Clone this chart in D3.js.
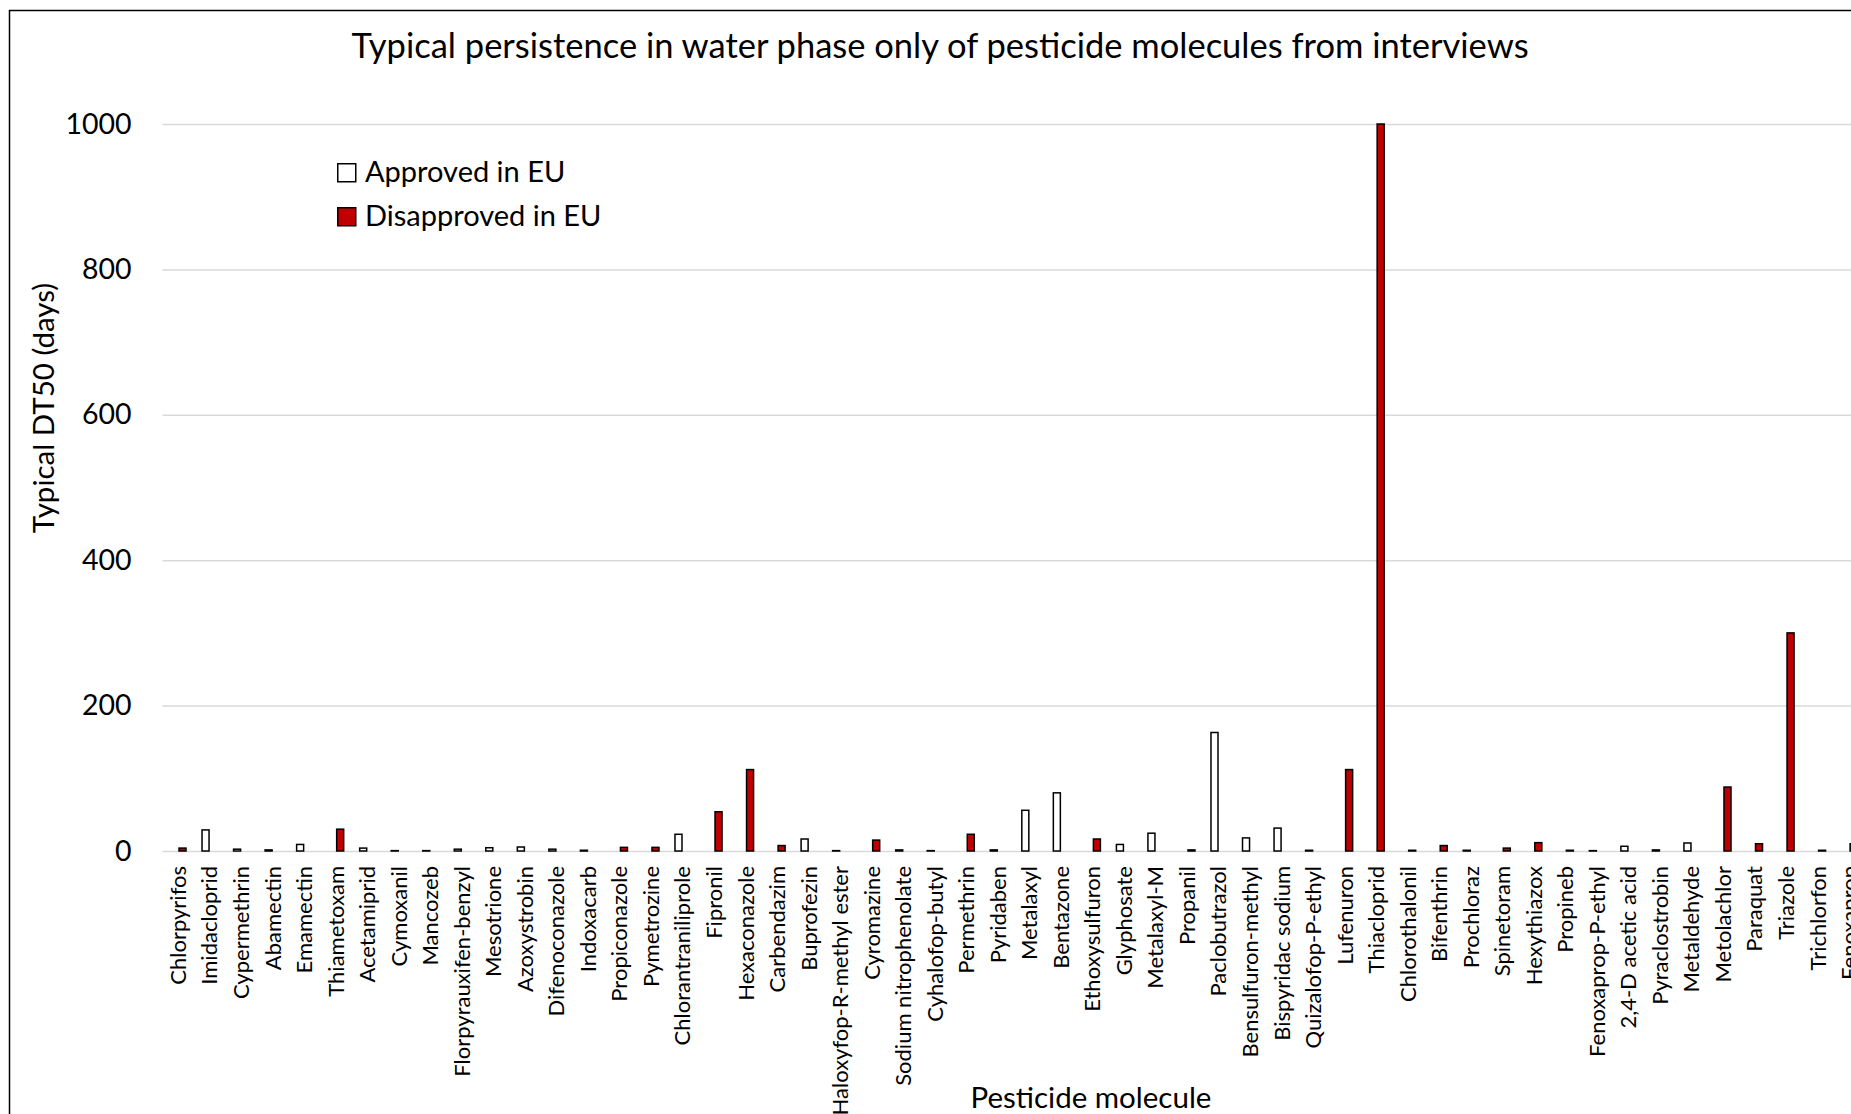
<!DOCTYPE html>
<html>
<head>
<meta charset="utf-8">
<script src="https://cdn.jsdelivr.net/npm/d3@7"></script>
<style>
  html, body { margin: 0; padding: 0; background: #fff; overflow: hidden; }
  svg { display: block; font-family: Lato, "Open Sans", sans-serif; }
</style>
</head>
<body>
<script>
// Pesticide molecules named in the interviews, in plotting order
const categories = [
  "Chlorpyrifos", "Imidacloprid", "Cypermethrin", "Abamectin", "Emamectin",
  "Thiametoxam", "Acetamiprid", "Cymoxanil", "Mancozeb", "Florpyrauxifen-benzyl",
  "Mesotrione", "Azoxystrobin", "Difenoconazole", "Indoxacarb", "Propiconazole",
  "Pymetrozine", "Chlorantraniliprole", "Fipronil", "Hexaconazole", "Carbendazim",
  "Buprofezin", "Haloxyfop-R-methyl ester", "Cyromazine", "Sodium nitrophenolate", "Cyhalofop-butyl",
  "Permethrin", "Pyridaben", "Metalaxyl", "Bentazone", "Ethoxysulfuron",
  "Glyphosate", "Metalaxyl-M", "Propanil", "Paclobutrazol", "Bensulfuron-methyl",
  "Bispyridac sodium", "Quizalofop-P-ethyl", "Lufenuron", "Thiacloprid", "Chlorothalonil",
  "Bifenthrin", "Prochloraz", "Spinetoram", "Hexythiazox", "Propineb",
  "Fenoxaprop-P-ethyl", "2,4-D acetic acid", "Pyraclostrobin", "Metaldehyde", "Metolachlor",
  "Paraquat", "Triazole", "Trichlorfon", "Fenoxaprop"
];

// Typical DT50 in water (days) for molecules approved in the EU (null = not in this series)
const approvedDT50 = [
  null, 29, 2.5, 1.5, 9,
  null, 4, 0.5, 0.5, 2.5,
  4.5, 5.5, 2.5, 1, null,
  null, 23, null, null, null,
  16.5, 0.5, null, 1.5, 0.5,
  null, 1.5, 56, 80, null,
  9, 24.5, null, 163, 18,
  31.5, 1, null, null, null,
  null, 1, null, null, null,
  0.5, 6.5, 1.5, 11, null,
  null, null, null, null
];

// Typical DT50 in water (days) for molecules disapproved in the EU
const disapprovedDT50 = [
  4, null, null, null, null,
  30, null, null, null, null,
  null, null, null, null, 5,
  5, null, 54, 112, 7.5,
  null, null, 15, null, null,
  23, null, null, null, 16.5,
  null, null, 1.5, null, null,
  null, null, 112, 1000, 1,
  7.5, null, 4, 11.5, 1,
  null, null, null, null, 88,
  10, 300, 1, 10
];

const seriesNames = ["Approved in EU", "Disapproved in EU"];
const seriesColors = ["#ffffff", "#c00000"];
const yTicks = [0, 200, 400, 600, 800, 1000];

const titleText = "Typical persistence in water phase only of pesticide molecules from interviews";
const yTitle = "Typical DT50 (days)";
const xTitle = "Pesticide molecule";

const W = 1851, H = 1114;
const plot = { left: 162.5, top: 124, bottom: 851, step: 31.53 };

const svg = d3.select("body").append("svg")
  .attr("width", W).attr("height", H);

svg.append("rect").attr("width", W).attr("height", H).attr("fill", "#fff");

// chart-area frame
svg.append("rect")
  .attr("x", 9.5).attr("y", 10.5)
  .attr("width", 2200).attr("height", 2200)
  .attr("fill", "none").attr("stroke", "#000").attr("stroke-width", 1.5);

const y = d3.scaleLinear().domain([0, 1000]).range([plot.bottom, plot.top]);

const x = d3.scaleBand()
  .domain(categories)
  .range([plot.left, plot.left + categories.length * plot.step])
  .paddingInner(0.46)
  .paddingOuter(0.23);

const sub = d3.scaleBand().domain(seriesNames).range([0, x.bandwidth()]);

// horizontal gridlines and value labels
const yAxis = svg.append("g")
  .attr("transform", `translate(${plot.left},0)`)
  .call(d3.axisLeft(y).tickValues(yTicks).tickSize(-(W - plot.left + 20)).tickPadding(31).tickFormat(d3.format("d")));
yAxis.select(".domain").remove();
yAxis.selectAll(".tick line").attr("stroke", "#d9d9d9").attr("stroke-width", 1.5);
yAxis.selectAll(".tick text")
  .attr("fill", "#000").style("font-size", "28.5px").style("font-family", "Lato, sans-serif");

// category axis with vertical labels
const xAxis = svg.append("g")
  .attr("transform", `translate(0,${plot.bottom})`)
  .call(d3.axisBottom(x).tickSize(0));
xAxis.select(".domain").remove();
xAxis.selectAll(".tick text")
  .attr("y", 0).attr("x", -15).attr("dy", "0.35em")
  .attr("transform", "rotate(-90)")
  .style("text-anchor", "end")
  .attr("fill", "#000")
  .style("font-size", "22px").style("font-family", "Lato, sans-serif");

// bars, one group per approval status
const seriesData = [approvedDT50, disapprovedDT50];
seriesNames.forEach((name, s) => {
  const rows = categories
    .map((c, i) => ({ cat: c, v: seriesData[s][i] }))
    .filter(d => d.v !== null);
  svg.append("g").selectAll("rect").data(rows).join("rect")
    .attr("x", d => x(d.cat) + sub(name) + 0.75)
    .attr("width", sub.bandwidth() - 1.5)
    .attr("y", d => y(d.v))
    .attr("height", d => y(0) - y(d.v))
    .attr("fill", seriesColors[s])
    .attr("stroke", "#000")
    .attr("stroke-width", 1.5);
});

// title
svg.append("text")
  .attr("x", 940).attr("y", 58)
  .attr("text-anchor", "middle")
  .style("font-size", "34.5px").attr("fill", "#000")
  .text(titleText);

// axis titles
svg.append("text")
  .attr("transform", "translate(54,408) rotate(-90)")
  .attr("text-anchor", "middle")
  .style("font-size", "29.5px").attr("fill", "#000")
  .text(yTitle);

svg.append("text")
  .attr("x", 1091).attr("y", 1108)
  .attr("text-anchor", "middle")
  .style("font-size", "29.5px").attr("fill", "#000")
  .text(xTitle);

// legend
const legend = svg.append("g").attr("transform", "translate(337,163)");
seriesNames.forEach((name, s) => {
  const row = legend.append("g").attr("transform", `translate(0,${s * 44})`);
  row.append("rect")
    .attr("x", 0.75).attr("y", 0.75).attr("width", 18).attr("height", 18)
    .attr("fill", seriesColors[s]).attr("stroke", "#000").attr("stroke-width", 1.5);
  row.append("text")
    .attr("x", 28).attr("y", 19)
    .style("font-size", "29px").attr("fill", "#000")
    .text(name);
});
</script>
</body>
</html>
